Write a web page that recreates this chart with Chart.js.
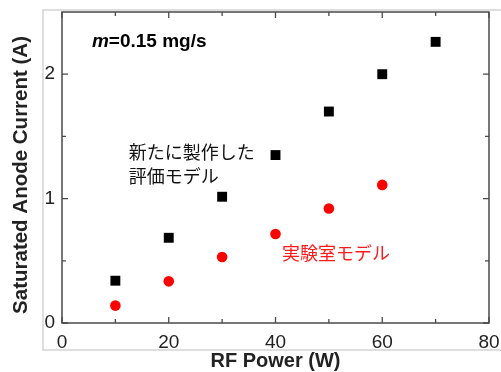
<!DOCTYPE html>
<html>
<head>
<meta charset="utf-8">
<script src="https://cdn.jsdelivr.net/npm/chart.js@4/dist/chart.umd.min.js"></script>
<style>
  html, body { margin: 0; padding: 0; background: #fff; }
  #wrap { width: 501px; height: 372px; position: relative; }
</style>
</head>
<body>
<div id="wrap"><canvas id="c" width="501" height="372"></canvas></div>
<script>
// ---- data ----
const rfPower = [10, 20, 30, 40, 50, 60, 70];
const newModelCurrent = [0.34, 0.685, 1.015, 1.35, 1.70, 2.00, 2.26];
const labPower = [10, 20, 30, 40, 50, 60];
const labModelCurrent = [0.14, 0.335, 0.53, 0.715, 0.92, 1.11];

const xTickLabels = [0, 20, 40, 60, 80];
const xMinorTicks = [10, 30, 50, 70];
const yTickLabels = [0, 1, 2];
const yMinorTicks = [0.5, 1.5];

const xTitle = 'RF Power (W)';
const yTitle = 'Saturated Anode Current (A)';
const newModelLabel = ['新たに製作した', '評価モデル'];
const labModelLabel = '実験室モデル';
const flowPrefix = 'm';
const flowText = '=0.15 mg/s';

const FONT = '"Liberation Sans", Arial, sans-serif';
const CJK = '"Noto Sans CJK JP", "Noto Sans", sans-serif';

const framePlugin = {
  id: 'framePlugin',
  beforeDraw(chart) {
    const ctx = chart.ctx;
    ctx.save();
    ctx.fillStyle = '#fff';
    ctx.fillRect(0, 0, chart.width, chart.height);
    ctx.strokeStyle = '#d4d4d4';
    ctx.lineWidth = 1.5;
    ctx.beginPath();
    ctx.moveTo(chart.width + 2, 10);
    ctx.lineTo(43, 10);
    ctx.lineTo(43, 350);
    ctx.lineTo(chart.width + 2, 350);
    ctx.stroke();
    ctx.restore();
  },
  afterDatasetsDraw(chart) {
    const ctx = chart.ctx;
    const xs = chart.scales.x, ys = chart.scales.y;
    const a = chart.chartArea;
    ctx.save();
    // box
    ctx.strokeStyle = '#4a4a4a';
    ctx.lineWidth = 1.5;
    ctx.strokeRect(a.left, a.top, a.right - a.left, a.bottom - a.top);
    // inward ticks
    ctx.lineWidth = 1.3;
    const tickX = (v, len) => {
      const p = xs.getPixelForValue(v);
      ctx.beginPath();
      ctx.moveTo(p, a.bottom); ctx.lineTo(p, a.bottom - len);
      ctx.moveTo(p, a.top); ctx.lineTo(p, a.top + len);
      ctx.stroke();
    };
    const tickY = (v, len) => {
      const p = ys.getPixelForValue(v);
      ctx.beginPath();
      ctx.moveTo(a.left, p); ctx.lineTo(a.left + len, p);
      ctx.moveTo(a.right, p); ctx.lineTo(a.right - len, p);
      ctx.stroke();
    };
    xTickLabels.forEach(v => tickX(v, 6));
    xMinorTicks.forEach(v => tickX(v, 4));
    yTickLabels.forEach(v => tickY(v, 6));
    yMinorTicks.forEach(v => tickY(v, 4));

    // y-axis title (rotated), centred slightly below the middle as in the reference
    ctx.save();
    ctx.translate(21.5, ys.getPixelForValue(1.19));
    ctx.rotate(-Math.PI / 2);
    ctx.textAlign = 'center';
    ctx.textBaseline = 'middle';
    ctx.fillStyle = '#222';
    ctx.font = 'bold 20.5px ' + FONT;
    ctx.fillText(yTitle, 0, 0);
    ctx.restore();

    // annotations (positioned in data units)
    ctx.textBaseline = 'middle';
    ctx.textAlign = 'left';
    let px = xs.getPixelForValue(5.6), py = ys.getPixelForValue(2.26);
    ctx.fillStyle = '#000';
    ctx.font = 'italic bold 19px ' + FONT;
    ctx.fillText(flowPrefix, px, py);
    const w = ctx.measureText(flowPrefix).width;
    ctx.font = 'bold 19px ' + FONT;
    ctx.fillText(flowText, px + w, py);
    ctx.font = '18px ' + CJK;
    ctx.fillStyle = '#111';
    px = xs.getPixelForValue(12.5);
    ctx.fillText(newModelLabel[0], px, ys.getPixelForValue(1.375));
    ctx.fillText(newModelLabel[1], px, ys.getPixelForValue(1.18));
    ctx.fillStyle = '#ff1a1a';
    ctx.fillText(labModelLabel, xs.getPixelForValue(41.2), ys.getPixelForValue(0.563));
    ctx.restore();
  }
};

new Chart(document.getElementById('c'), {
  type: 'scatter',
  data: {
    datasets: [
      {
        label: newModelLabel.join(''),
        data: rfPower.map((x, i) => ({ x, y: newModelCurrent[i] })),
        pointStyle: 'rect',
        pointRadius: 7,
        backgroundColor: '#000',
        borderColor: '#000',
        borderWidth: 0
      },
      {
        label: labModelLabel,
        data: labPower.map((x, i) => ({ x, y: labModelCurrent[i] })),
        pointStyle: 'circle',
        pointRadius: 5.3,
        backgroundColor: '#ff0000',
        borderColor: '#ff0000',
        borderWidth: 0
      }
    ]
  },
  options: {
    responsive: false,
    animation: false,
    devicePixelRatio: 1,
    layout: { padding: { top: 12, right: 12, left: 0, bottom: 0 } },
    plugins: { legend: { display: false }, tooltip: { enabled: false } },
    scales: {
      x: {
        type: 'linear', min: 0, max: 80,
        afterBuildTicks: s => { s.ticks = xTickLabels.map(v => ({ value: v })); },
        afterFit: s => { s.height = 49; s.paddingLeft = 0; s.paddingRight = 0; },
        grid: { display: false, drawTicks: false },
        border: { display: false },
        ticks: { padding: 8, color: '#222', font: { family: FONT, size: 19 }, maxRotation: 0 },
        title: { display: true, text: xTitle, color: '#222',
                 font: { family: FONT, size: 20, weight: 'bold', lineHeight: 1 },
                 padding: { top: 0, bottom: 1 } }
      },
      y: {
        type: 'linear', min: 0, max: 2.5,
        afterBuildTicks: s => { s.ticks = yTickLabels.map(v => ({ value: v })); },
        afterFit: s => { s.width = 62; s.paddingTop = 0; s.paddingBottom = 0; },
        grid: { display: false, drawTicks: false },
        border: { display: false },
        ticks: { padding: 7, color: '#222', font: { family: FONT, size: 19 } },
        title: { display: false, text: yTitle }
      }
    }
  },
  plugins: [framePlugin]
});
</script>
</body>
</html>
